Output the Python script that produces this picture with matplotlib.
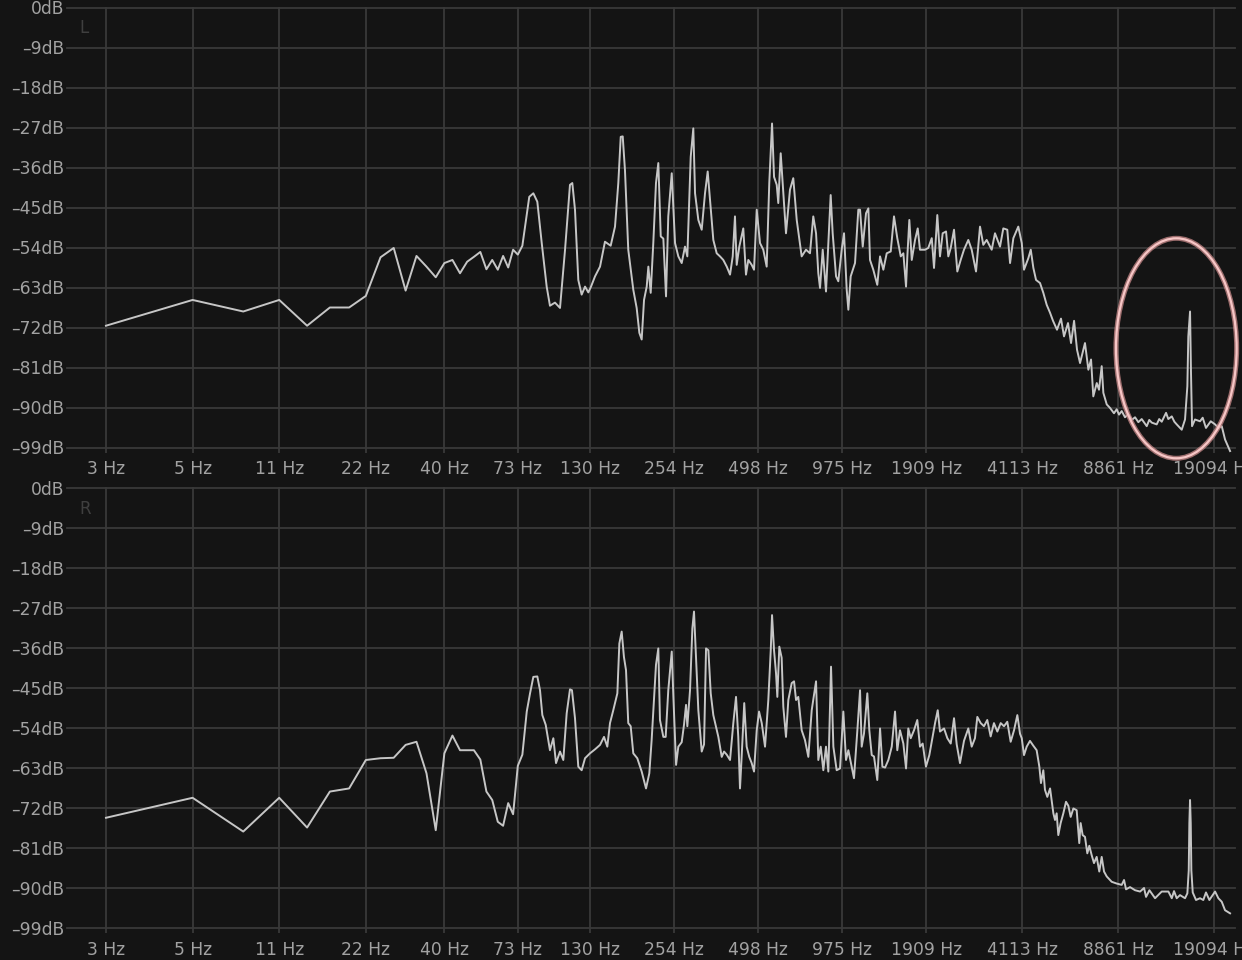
import numpy as np
import matplotlib
matplotlib.use('Agg')
import matplotlib.pyplot as plt
from matplotlib.patches import Ellipse

# analyzer FFT bin width (44.1 kHz, 16384 point FFT)
BIN_HZ = 44100 / 16384

# x ticks sit on FFT bins
tick_bins = [1, 2, 4, 8, 15, 27, 48, 94, 185, 362, 709, 1528, 3292, 7093]
tick_labels = ['3 Hz', '5 Hz', '11 Hz', '22 Hz', '40 Hz', '73 Hz', '130 Hz', '254 Hz',
               '498 Hz', '975 Hz', '1909 Hz', '4113 Hz', '8861 Hz', '19094 Hz']
db_ticks = [0, -9, -18, -27, -36, -45, -54, -63, -72, -81, -90, -99]
db_labels = ['0dB', '–9dB', '–18dB', '–27dB', '–36dB', '–45dB', '–54dB', '–63dB',
             '–72dB', '–81dB', '–90dB', '–99dB']

# low end: one value per FFT bin (bins 1..28)
low_bins = list(range(1, 29))
L_low_db = [-71.6, -65.8, -68.4, -65.8, -71.6, -67.5, -67.5, -64.9, -56.2, -54.1,
            -63.7, -55.9, -58.3, -60.7, -57.5, -56.8, -59.8, -57.2, -56.1, -55.0,
            -58.9, -56.8, -59.0, -55.9, -58.5, -54.5, -55.6, -53.6]
R_low_db = [-74.2, -69.7, -77.3, -69.7, -76.4, -68.3, -67.6, -61.2, -60.8, -60.7,
            -57.8, -57.1, -64.2, -77.0, -59.7, -55.7, -59.0, -59.0, -59.0, -61.1,
            -68.3, -70.2, -75.1, -76.0, -70.9, -73.4, -62.5, -60.0]

# upper range: (octaves above first bin, dB)
L_hi = [(4.838, -49.3), (4.887, -42.6), (4.934, -41.8), (4.980, -43.7), (5.031, -53.0),
        (5.088, -62.8), (5.126, -67.1), (5.184, -66.4), (5.242, -67.6), (5.300, -54.5),
        (5.357, -39.9), (5.384, -39.5), (5.415, -45.5), (5.453, -61.3), (5.492, -64.6),
        (5.531, -62.8), (5.569, -64.1), (5.600, -62.8), (5.646, -60.5), (5.704, -58.3),
        (5.761, -52.7), (5.827, -53.6), (5.877, -49.3), (5.915, -39.5), (5.943, -29.1),
        (5.966, -29.0), (5.992, -36.6), (6.030, -54.5), (6.088, -63.5), (6.127, -67.6),
        (6.158, -73.2), (6.185, -74.7), (6.212, -65.8), (6.243, -62.8), (6.262, -58.3),
        (6.289, -64.2), (6.319, -53.0), (6.350, -39.5), (6.377, -35.0), (6.405, -51.5),
        (6.435, -52.0), (6.466, -65.0), (6.492, -47.0), (6.532, -37.3), (6.570, -53.0),
        (6.608, -56.0), (6.647, -57.5), (6.685, -53.8), (6.712, -56.0), (6.751, -33.6),
        (6.781, -27.2), (6.801, -41.8), (6.839, -47.8), (6.878, -50.0), (6.916, -41.8),
        (6.947, -36.9), (6.974, -43.3), (7.012, -52.3), (7.051, -55.3), (7.089, -56.0),
        (7.127, -56.8), (7.167, -58.3), (7.205, -60.1), (7.236, -56.0), (7.262, -47.0),
        (7.282, -57.9), (7.312, -53.8), (7.358, -49.7), (7.389, -60.1), (7.416, -56.8),
        (7.455, -57.9), (7.482, -59.0), (7.513, -45.5), (7.551, -53.0), (7.589, -54.5),
        (7.628, -58.3), (7.658, -39.5), (7.690, -26.1), (7.713, -38.1), (7.744, -39.9),
        (7.762, -44.0), (7.790, -32.8), (7.820, -41.8), (7.851, -50.8), (7.897, -41.0),
        (7.935, -38.4), (7.975, -47.8), (8.032, -56.0), (8.082, -54.5), (8.128, -55.3),
        (8.166, -47.0), (8.198, -50.8), (8.224, -59.8), (8.244, -63.1), (8.275, -54.5),
        (8.313, -63.9), (8.340, -53.0), (8.367, -42.2), (8.390, -50.8), (8.429, -60.5),
        (8.455, -61.6), (8.494, -54.5), (8.521, -50.8), (8.552, -63.5), (8.571, -68.0),
        (8.598, -60.5), (8.648, -57.5), (8.686, -45.5), (8.706, -45.5), (8.737, -53.8),
        (8.775, -46.3), (8.802, -45.2), (8.821, -56.8), (8.859, -59.0), (8.905, -62.4),
        (8.937, -56.0), (8.975, -59.0), (9.014, -55.3), (9.060, -54.9), (9.098, -47.0),
        (9.136, -51.9), (9.176, -56.0), (9.206, -55.3), (9.237, -62.8), (9.252, -56.0),
        (9.275, -47.8), (9.303, -56.8), (9.341, -52.3), (9.372, -49.7), (9.398, -54.5),
        (9.456, -54.5), (9.494, -54.1), (9.534, -51.9), (9.560, -58.6), (9.598, -46.7),
        (9.629, -56.0), (9.660, -50.8), (9.699, -50.4), (9.725, -56.0), (9.753, -54.1),
        (9.791, -50.0), (9.829, -59.4), (9.868, -56.8), (9.906, -54.5), (9.956, -52.3),
        (9.995, -54.5), (10.045, -59.4), (10.091, -49.3), (10.129, -53.4), (10.168, -52.3),
        (10.226, -54.5), (10.264, -50.8), (10.322, -53.8), (10.360, -49.7), (10.406, -50.0),
        (10.438, -57.5), (10.476, -51.9), (10.533, -49.3), (10.573, -53.0), (10.599, -59.0),
        (10.649, -56.4), (10.677, -54.5), (10.707, -58.6), (10.738, -61.3), (10.784, -62.0),
        (10.822, -64.2), (10.861, -66.9), (10.900, -68.7), (10.934, -70.5), (10.980, -72.5),
        (11.026, -70.0), (11.061, -74.0), (11.107, -71.0), (11.142, -75.5), (11.177, -70.5),
        (11.211, -77.0), (11.246, -80.0), (11.303, -75.5), (11.342, -81.5), (11.373, -79.2),
        (11.399, -87.5), (11.439, -84.5), (11.465, -86.0), (11.496, -80.7), (11.515, -86.7),
        (11.554, -89.3), (11.592, -90.1), (11.638, -91.3), (11.669, -90.4), (11.696, -91.6),
        (11.727, -90.8), (11.765, -92.2), (11.804, -91.5), (11.843, -92.8), (11.881, -92.2),
        (11.919, -93.3), (11.958, -92.6), (12.016, -94.2), (12.045, -92.8), (12.074, -93.4),
        (12.131, -93.8), (12.160, -92.6), (12.189, -93.2), (12.239, -91.2), (12.265, -92.6),
        (12.305, -92.0), (12.335, -93.2), (12.362, -93.8), (12.420, -95.0), (12.458, -92.7),
        (12.485, -85.2), (12.496, -74.0), (12.516, -68.4), (12.527, -82.2), (12.539, -94.2),
        (12.573, -92.7), (12.631, -93.1), (12.662, -92.3), (12.700, -94.6), (12.755, -93.1),
        (12.805, -93.8), (12.843, -94.6), (12.882, -94.2), (12.920, -97.2), (12.978, -99.8)]

R_hi = [(4.858, -50.3), (4.896, -46.2), (4.934, -42.5), (4.980, -42.4), (5.011, -45.5),
        (5.038, -51.1), (5.077, -53.3), (5.126, -59.0), (5.165, -56.3), (5.196, -61.9),
        (5.242, -59.3), (5.280, -61.2), (5.319, -50.7), (5.357, -45.3), (5.380, -45.5),
        (5.415, -51.8), (5.453, -62.7), (5.492, -63.5), (5.531, -60.8), (5.588, -59.7),
        (5.646, -58.8), (5.704, -57.8), (5.750, -56.0), (5.788, -58.2), (5.819, -52.9),
        (5.857, -50.0), (5.904, -46.2), (5.927, -35.0), (5.954, -32.3), (5.980, -38.0),
        (6.004, -41.0), (6.030, -52.9), (6.058, -53.6), (6.088, -59.7), (6.134, -60.8),
        (6.185, -63.8), (6.235, -67.6), (6.273, -64.2), (6.300, -56.7), (6.327, -47.7),
        (6.350, -39.8), (6.377, -36.1), (6.396, -52.2), (6.435, -56.0), (6.462, -56.0),
        (6.492, -45.5), (6.532, -36.8), (6.551, -47.0), (6.582, -62.3), (6.608, -58.2),
        (6.647, -57.2), (6.674, -53.2), (6.697, -48.8), (6.712, -53.6), (6.743, -45.5),
        (6.770, -31.6), (6.789, -27.8), (6.809, -36.5), (6.839, -50.0), (6.878, -59.3),
        (6.905, -57.7), (6.928, -36.1), (6.955, -36.5), (6.982, -46.2), (7.012, -51.1),
        (7.070, -56.0), (7.109, -60.5), (7.136, -59.3), (7.167, -60.0), (7.205, -61.2),
        (7.243, -52.9), (7.274, -47.0), (7.300, -56.0), (7.320, -67.6), (7.339, -60.5),
        (7.369, -48.4), (7.397, -58.2), (7.427, -60.5), (7.455, -61.9), (7.482, -63.8),
        (7.513, -54.5), (7.540, -50.3), (7.571, -52.9), (7.609, -58.2), (7.647, -47.7),
        (7.675, -36.5), (7.690, -28.6), (7.713, -36.5), (7.736, -41.7), (7.751, -47.0),
        (7.774, -35.7), (7.801, -38.2), (7.820, -49.2), (7.851, -56.0), (7.878, -47.7),
        (7.917, -43.9), (7.944, -43.5), (7.967, -47.7), (7.993, -47.0), (8.032, -54.5),
        (8.070, -56.7), (8.109, -60.5), (8.148, -50.0), (8.198, -43.5), (8.224, -61.2),
        (8.252, -58.2), (8.282, -63.5), (8.313, -58.2), (8.340, -63.8), (8.371, -40.2),
        (8.398, -58.2), (8.436, -63.5), (8.475, -63.1), (8.513, -50.3), (8.544, -61.2),
        (8.571, -59.0), (8.636, -65.3), (8.675, -54.5), (8.706, -45.5), (8.725, -58.2),
        (8.752, -55.2), (8.790, -46.2), (8.813, -54.5), (8.841, -60.1), (8.867, -60.4),
        (8.905, -65.7), (8.937, -54.1), (8.964, -62.7), (8.995, -62.9), (9.033, -61.2),
        (9.072, -58.2), (9.110, -50.3), (9.136, -59.0), (9.167, -54.5), (9.206, -57.5),
        (9.237, -63.1), (9.263, -54.1), (9.291, -56.3), (9.329, -54.5), (9.367, -52.2),
        (9.398, -58.2), (9.429, -57.5), (9.467, -62.7), (9.506, -60.1), (9.545, -55.9),
        (9.572, -52.9), (9.603, -50.0), (9.629, -54.8), (9.676, -54.1), (9.714, -56.3),
        (9.753, -57.5), (9.791, -51.8), (9.822, -57.7), (9.860, -61.9), (9.906, -56.9),
        (9.956, -54.1), (9.995, -58.2), (10.033, -56.3), (10.060, -51.5), (10.099, -52.9),
        (10.137, -53.6), (10.175, -52.2), (10.214, -55.9), (10.252, -52.9), (10.291, -54.8),
        (10.330, -52.9), (10.368, -53.6), (10.406, -52.6), (10.445, -57.1), (10.484, -54.5),
        (10.522, -51.1), (10.553, -55.3), (10.573, -56.3), (10.599, -60.1), (10.630, -58.2),
        (10.668, -56.9), (10.707, -58.0), (10.745, -59.0), (10.776, -62.7), (10.795, -66.4),
        (10.822, -63.5), (10.841, -67.9), (10.868, -69.5), (10.900, -67.6), (10.938, -73.2),
        (10.957, -74.7), (10.976, -73.2), (10.995, -78.1), (11.022, -75.4), (11.053, -73.2),
        (11.084, -70.6), (11.111, -71.5), (11.138, -74.0), (11.169, -72.1), (11.207, -72.5),
        (11.237, -79.9), (11.253, -75.4), (11.276, -78.1), (11.303, -78.5), (11.330, -82.2),
        (11.353, -80.5), (11.380, -82.6), (11.407, -84.4), (11.438, -83.0), (11.468, -86.3),
        (11.496, -83.0), (11.523, -86.3), (11.554, -87.4), (11.611, -88.6), (11.669, -89.0),
        (11.727, -89.3), (11.754, -88.2), (11.777, -90.3), (11.823, -89.8), (11.881, -90.5),
        (11.939, -90.8), (11.985, -90.0), (12.008, -92.0), (12.047, -90.5), (12.112, -92.3),
        (12.189, -90.8), (12.266, -90.8), (12.305, -92.3), (12.331, -90.7), (12.362, -92.3),
        (12.400, -91.6), (12.458, -92.3), (12.485, -91.2), (12.501, -86.0), (12.508, -75.4),
        (12.516, -70.2), (12.524, -75.4), (12.531, -86.0), (12.547, -91.0), (12.585, -92.7),
        (12.631, -92.3), (12.669, -92.7), (12.700, -91.0), (12.739, -92.7), (12.777, -91.6),
        (12.805, -90.8), (12.843, -92.3), (12.882, -93.1), (12.920, -95.0), (12.978, -95.7)]

BG = '#141414'
GRID = '#393939'
TXT = '#a2a2a2'
LINE = '#c6c6c6'

plt.rcParams['font.family'] = ['DejaVu Sans']

fig = plt.figure(figsize=(12.42, 9.6), dpi=100, facecolor=BG)
W, H = 1242.0, 960.0
ax_l = fig.add_axes([67 / W, (H - 447.5) / H, 1168 / W, 440 / H])
ax_r = fig.add_axes([67 / W, (H - 928) / H, 1168 / W, 440 / H])


def draw_panel(ax, low_db, hi, name):
    hi = np.array(hi)
    freq = np.concatenate([np.array(low_bins) * BIN_HZ, BIN_HZ * 2 ** hi[:, 0]])
    db = np.concatenate([low_db, hi[:, 1]])
    ax.set_facecolor(BG)
    ax.plot(freq, db, color=LINE, lw=1.4, clip_on=False, zorder=3)
    ax.set_xscale('log')
    ax.set_xlim(BIN_HZ * 2 ** -0.45, BIN_HZ * 2 ** 13.035)
    ax.set_ylim(-99, 0)
    ax.set_xticks(np.array(tick_bins) * BIN_HZ)
    ax.set_xticklabels(tick_labels)
    ax.minorticks_off()
    ax.set_yticks(db_ticks)
    ax.set_yticklabels(db_labels)
    ax.grid(True, color=GRID, lw=1.3)
    for sp in ax.spines.values():
        sp.set_visible(False)
    ax.tick_params(axis='x', length=3.6, width=1.3, color=GRID, labelcolor=TXT,
                   labelsize=12.3, pad=5.5)
    ax.tick_params(axis='y', length=0, labelcolor=TXT, labelsize=12.3, pad=2.2)
    for gl in ax.get_xgridlines() + ax.get_ygridlines():
        gl.set_clip_on(False)
    ax.text(0.011, 0.953, name, transform=ax.transAxes, color='#3f3f3f',
            fontsize=12, ha='left', va='center')


draw_panel(ax_l, L_low_db, L_hi, 'L')
draw_panel(ax_r, R_low_db, R_hi, 'R')

# highlight ring around the 19 kHz tone in the left channel
ring_xy = (1176.3 / W, (H - 348.3) / H)
fig.patches.append(Ellipse(ring_xy, 120.7 / W, 220 / H, transform=fig.transFigure,
                           fill=False, ec='#c98a8a', lw=3.6, alpha=0.75, zorder=5))
fig.patches.append(Ellipse(ring_xy, 120.7 / W, 220 / H, transform=fig.transFigure,
                           fill=False, ec='#f7c6c6', lw=1.6, zorder=6))

fig.savefig('out.png', dpi=100, facecolor=BG)
